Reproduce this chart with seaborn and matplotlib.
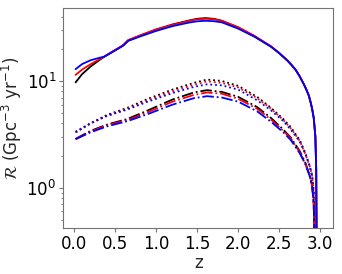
import numpy as np
import pandas as pd
import seaborn as sns
import matplotlib
matplotlib.use('Agg')
import matplotlib.pyplot as plt

# solid curves
z_solid = [0.02, 0.1, 0.2, 0.3, 0.37, 0.45, 0.53, 0.6, 0.66, 0.8, 1.0, 1.2, 1.4, 1.5, 1.6, 1.7,
           1.8, 2.0, 2.2, 2.4, 2.5, 2.6, 2.65, 2.7, 2.75, 2.8, 2.83, 2.86, 2.88, 2.9, 2.92, 2.94,
           2.95, 2.955]
solid_black = [9.7, 11.6, 13.6, 15.5, 16.9, 18.4, 20.0, 21.6, 24.0, 26.5, 30.3, 33.8, 36.8, 38.2, 38.8, 38.2,
               36.6, 31.6, 26.2, 21.0, 18.2, 15.5, 14.1, 12.7, 11.0, 9.3, 8.3, 7.3, 6.4, 5.5, 4.5, 3.0,
               1.5, 0.3]
solid_red = [11.4, 12.8, 14.3, 15.8, 16.9, 18.5, 20.1, 21.7, 24.1, 26.6, 30.4, 33.6, 36.5, 37.8, 38.2, 37.9,
             36.7, 31.9, 26.4, 21.1, 18.3, 15.6, 14.1, 12.7, 11.0, 9.3, 8.3, 7.3, 6.4, 5.5, 4.5, 3.0,
             1.5, 0.3]
solid_blue = [12.9, 14.4, 15.6, 16.4, 16.9, 18.3, 19.9, 21.4, 23.7, 26.0, 29.4, 32.6, 35.2, 36.2, 36.6, 36.3,
              35.4, 30.9, 25.9, 20.9, 18.2, 15.5, 14.1, 12.7, 11.0, 9.3, 8.3, 7.3, 6.4, 5.5, 4.5, 3.0,
              1.5, 0.3]

# dotted and dash-dot curves
z_low = [0.02, 0.2, 0.4, 0.65, 0.9, 1.2, 1.46, 1.62, 1.8, 2.0, 2.23, 2.4, 2.55,
         2.64, 2.75, 2.82, 2.87, 2.9, 2.92, 2.935]
dot_black = [3.3, 4.0, 4.8, 5.6, 6.8, 8.3, 9.6, 10.3, 10.0, 9.0, 7.1, 5.6, 4.4,
             3.7, 2.8, 2.1, 1.6, 1.3, 0.9, 0.3]
dot_red = [3.3, 4.0, 4.7, 5.5, 6.6, 8.0, 9.2, 9.9, 9.6, 8.7, 6.9, 5.5, 4.3,
           3.6, 2.75, 2.05, 1.6, 1.3, 0.9, 0.3]
dot_blue = [3.35, 4.0, 4.7, 5.4, 6.4, 7.7, 8.8, 9.3, 9.1, 8.3, 6.6, 5.3, 4.2,
            3.5, 2.7, 2.05, 1.6, 1.3, 0.9, 0.3]
dd_black = [2.87, 3.4, 3.9, 4.4, 5.3, 6.7, 7.8, 8.2, 7.9, 7.1, 5.7, 4.5, 3.5,
            2.95, 2.2, 1.7, 1.3, 1.05, 0.7, 0.2]
dd_red = [2.85, 3.35, 3.85, 4.3, 5.1, 6.4, 7.4, 7.8, 7.6, 6.8, 5.5, 4.35, 3.4,
          2.9, 2.15, 1.65, 1.3, 1.05, 0.7, 0.2]
dd_blue = [2.85, 3.3, 3.75, 4.2, 4.9, 6.0, 6.9, 7.2, 7.0, 6.4, 5.2, 4.15, 3.3,
           2.8, 2.1, 1.65, 1.3, 1.05, 0.7, 0.2]

sns.set_style('ticks', {'axes.edgecolor': '0.45'})
plt.rcParams['font.family'] = ['DejaVu Sans']
plt.rcParams['mathtext.fontset'] = 'dejavusans'

fig, ax = plt.subplots(figsize=(3.42, 2.74), dpi=100)

curves = [
    (z_low, dot_black, 'black', ':'), (z_low, dot_red, 'red', ':'), (z_low, dot_blue, 'blue', ':'),
    (z_low, dd_black, 'black', '-.'), (z_low, dd_red, 'red', '-.'), (z_low, dd_blue, 'blue', '-.'),
    (z_solid, solid_black, 'black', '-'), (z_solid, solid_red, 'red', '-'), (z_solid, solid_blue, 'blue', '-'),
]
for zz, rr, col, ls in curves:
    sns.lineplot(x=zz, y=rr, color=col, linestyle=ls, linewidth=1.3, ax=ax, sort=False)

ax.set_yscale('log')
ax.set_xlim(-0.13, 3.16)
ax.set_ylim(0.42, 48)
ax.set_xticks([0.0, 0.5, 1.0, 1.5, 2.0, 2.5, 3.0])
ax.tick_params(which='major', length=3, width=0.8, pad=2, labelsize=12, colors='0.45', labelcolor='black')
ax.tick_params(which='minor', length=1.8, width=0.6, colors='0.45')
ax.set_xlabel('z', fontsize=12, labelpad=1)
ax.set_ylabel(r'$\mathcal{R}$ (Gpc$^{-3}$ yr$^{-1}$)', fontsize=12, labelpad=2)

fig.subplots_adjust(left=0.185, right=0.975, top=0.97, bottom=0.168)
fig.savefig('out.png', dpi=100)
